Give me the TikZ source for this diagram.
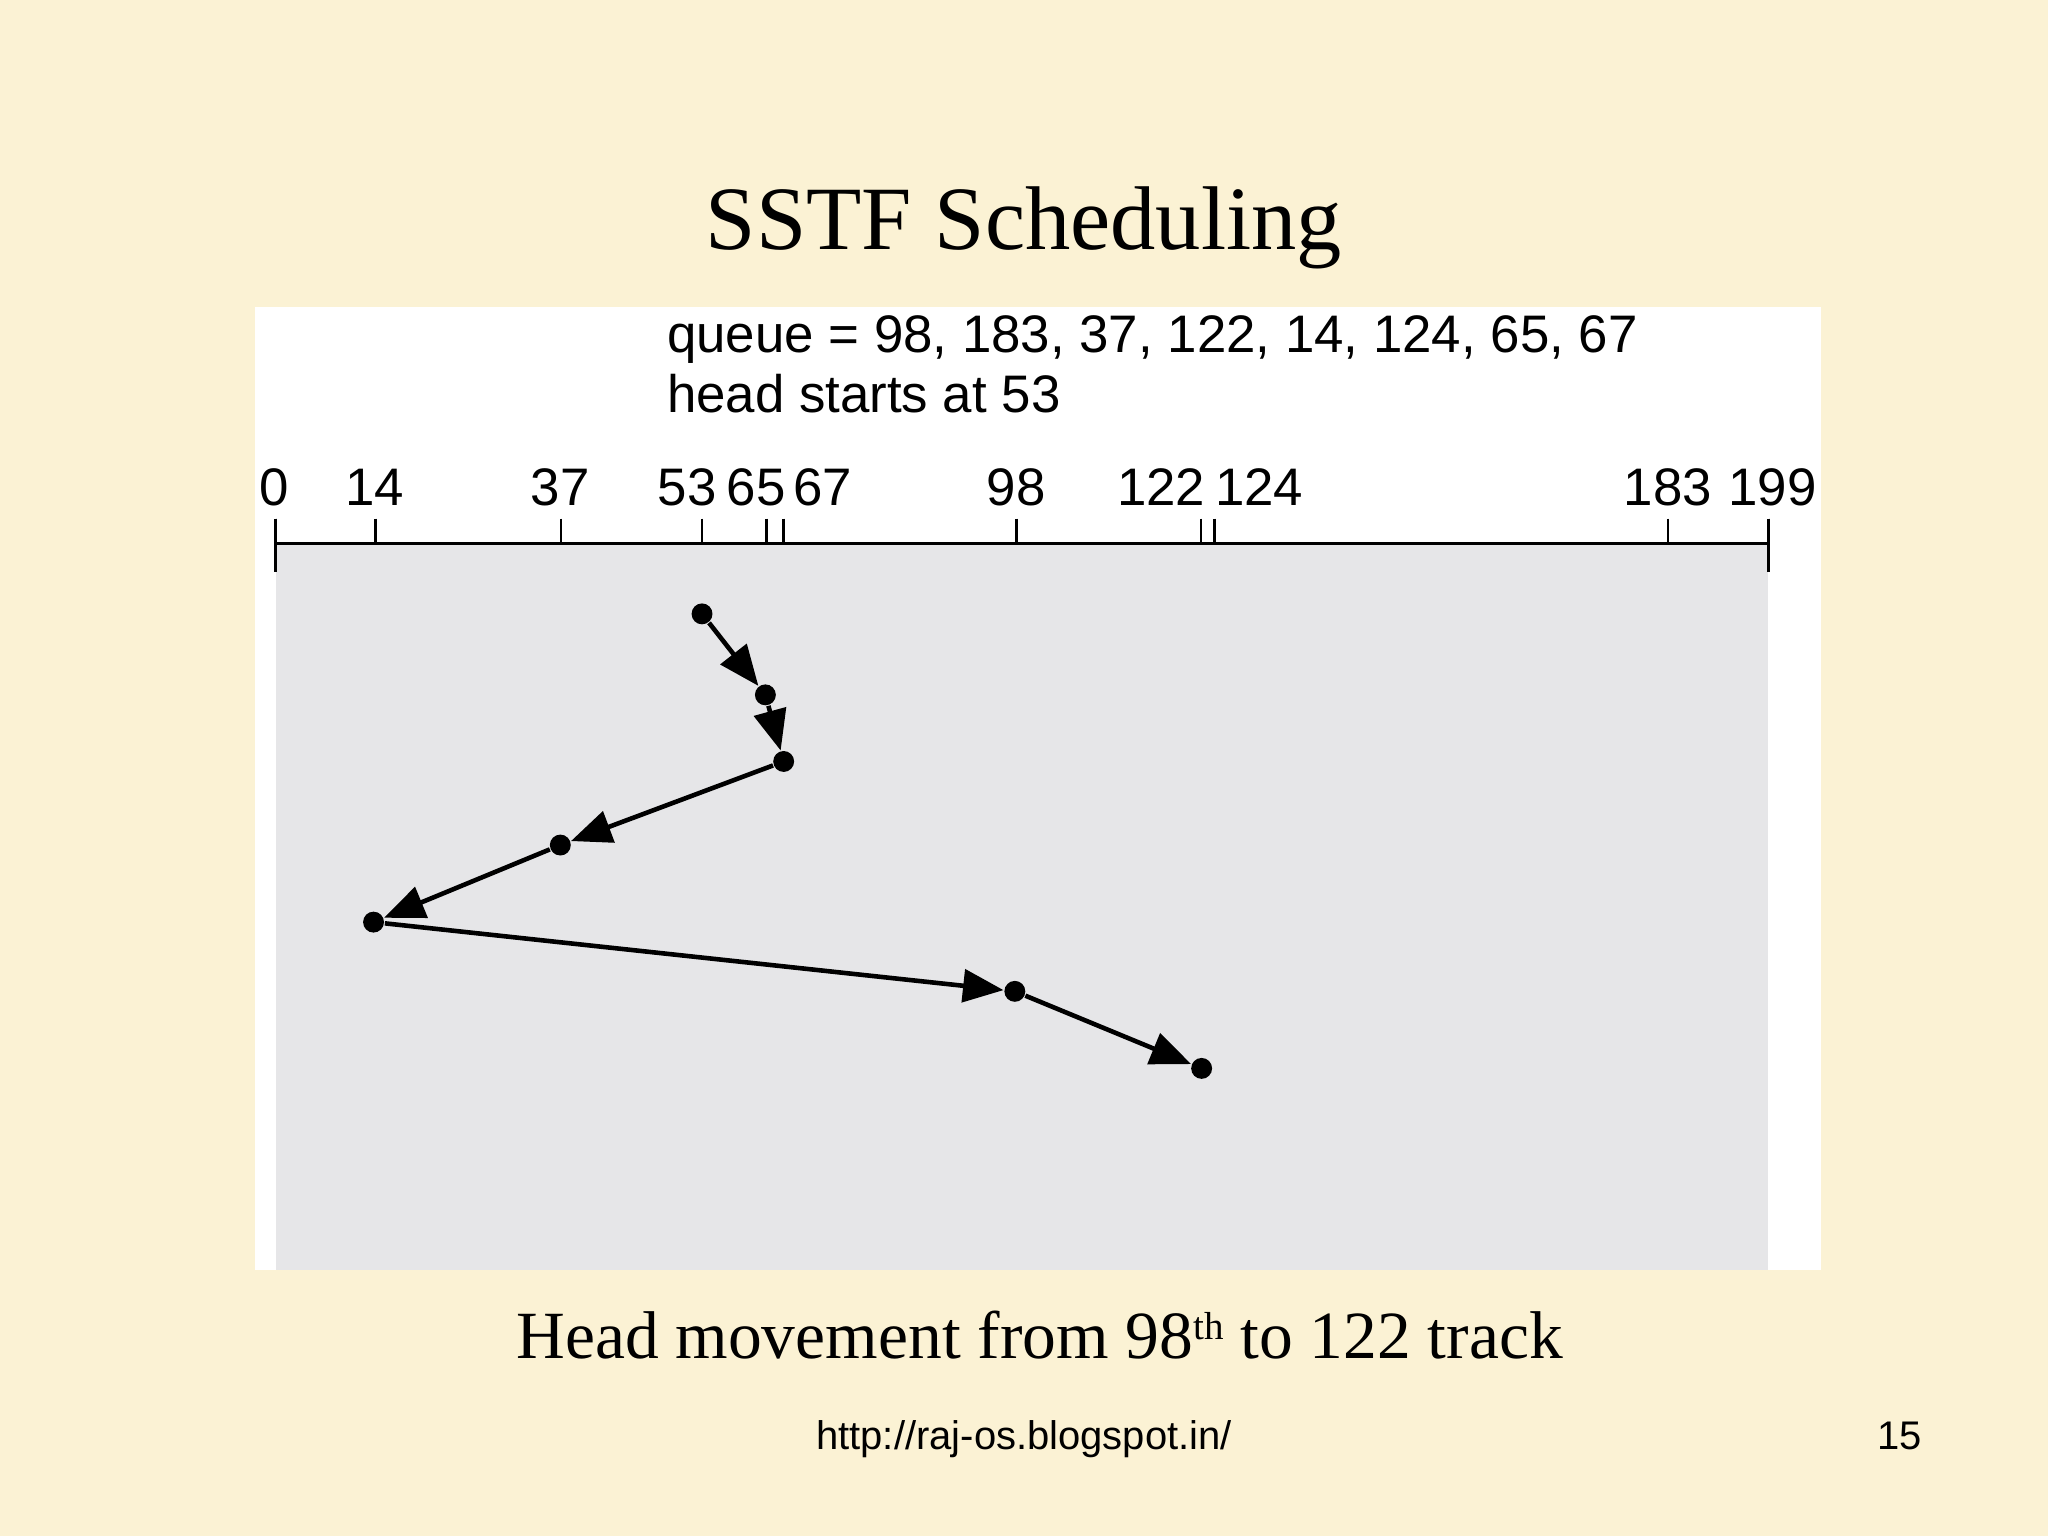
\documentclass[tikz,border=0pt]{standalone}
\usepackage{fontspec}
\setmainfont{Liberation Serif}
\setsansfont{Liberation Sans}
\usetikzlibrary{positioning}
\usetikzlibrary{arrows.meta}

\definecolor{slidebg}{RGB}{251,242,212}
\definecolor{panelgrey}{RGB}{230,230,232}

\tikzset{
	track/.style = {circle, fill, black, inner sep = 0pt, minimum size = .16cm},
	move/.style = {-{Triangle[length = 3.1mm, width = 2.5mm]}, line width = 1pt},
	trackmark/.style = {line width = .6pt},
	numlabel/.style = {font = \sffamily\fontsize{11.5}{13}\selectfont, anchor = base, inner sep = 0pt}
}

\begin{document}
\begin{tikzpicture}[x = .01cm, y = -.01cm]
	\useasboundingbox (0,0) rectangle (1568,1176);
	\fill[slidebg] (0,0) rectangle (1568,1176);
	\fill[white] (195,235) rectangle (1394,972);
	\fill[panelgrey] (211,416) rectangle (1354,972);
	
	\node[font = \fontsize{19.7}{23}\selectfont, anchor = base, inner sep = 0pt] (title) at (784,191) {SSTF Scheduling};
	\node[numlabel, anchor = base west] (queue) at (510,270) {queue = 98, 183, 37, 122, 14, 124, 65, 67};
	\node[numlabel, below = .46cm of queue.base west, anchor = base west] (start) {head starts at 53};
	
	% cylinder axis
	\draw[line width = .8pt] (211,416) -- (1354,416);
	\draw[trackmark] (211,397) -- (211,438);
	\draw[trackmark] (1354,397) -- (1354,438);
	\foreach \t/\x/\lx in {0/211/210, 14/287.5/287, 37/429.5/429, 53/537.5/526, 65/587/579, 67/600/630, 98/778.5/778, 122/919.5/889, 124/930/964, 183/1277/1277, 199/1354/1357}
	{
		\draw[trackmark] (\x,397) -- (\x,416);
		\node[numlabel] (lab\t) at (\lx,387) {\t};
	}
	
	\node[track] (t53) at (537.5,470) {};
	\node[track] (t65) at (586,532) {};
	\node[track] (t67) at (600,583) {};
	\node[track] (t37) at (429,647) {};
	\node[track] (t14) at (286,706) {};
	\node[track] (t98) at (777,759) {};
	\node[track] (t122) at (920,818) {};
	
	\path (t53) edge[move] (t65);
	\path (t65) edge[move] (t67);
	\path (t67) edge[move] (t37);
	\path (t37) edge[move] (t14);
	\path (t14) edge[move] (t98);
	\path (t98) edge[move] (t122);
	
	\node[font = \fontsize{14.7}{17}\selectfont, anchor = base, inner sep = 0pt] (caption) at (796,1040) {Head movement from 98\raisebox{4pt}{\fontsize{8.5}{9}\selectfont th} to 122 track};
	\node[font = \sffamily\fontsize{8.7}{10}\selectfont, anchor = base, inner sep = 0pt] (url) at (784,1110) {http://raj-os.blogspot.in/};
	\node[font = \sffamily\fontsize{8.7}{10}\selectfont, anchor = base east, inner sep = 0pt] (page) at (1472,1110) {15};
\end{tikzpicture}
\end{document}
